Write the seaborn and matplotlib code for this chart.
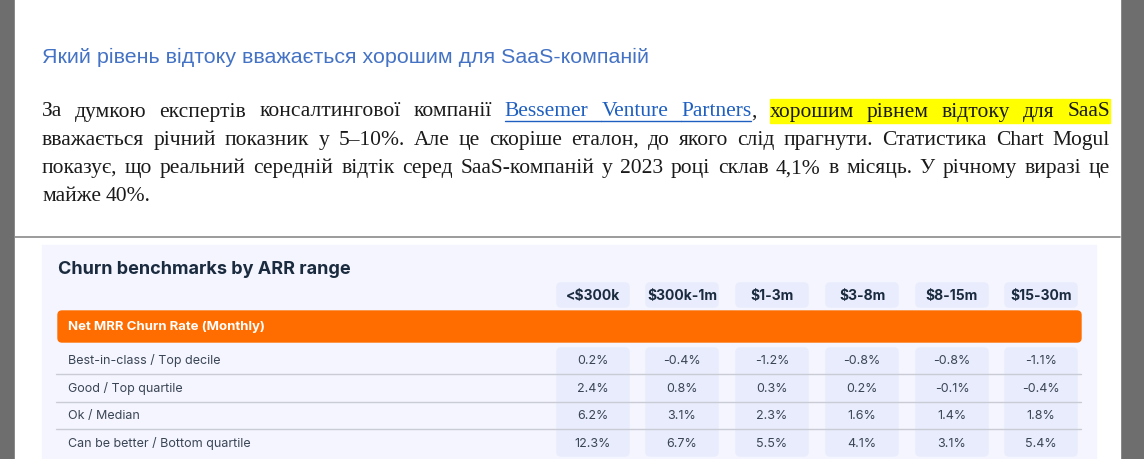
import matplotlib
matplotlib.use("Agg")
import matplotlib.pyplot as plt
import seaborn as sns
from matplotlib.patches import FancyBboxPatch, Rectangle

# data
heading = "Який рівень відтоку вважається хорошим для SaaS-компаній"
para_lines = [
    [("За думкою експертів консалтингової компанії", "k", None),
     ("Bessemer Venture Partners", "#1F5FC0", "link"),
     (",", "k", None),
     ("хорошим рівнем відтоку для SaaS", "k", "#FFFF00")],
    [("вважається річний показник у 5–10%. Але це скоріше еталон, до якого слід прагнути. Статистика Chart Mogul", "k", None)],
    [("показує, що реальний середній відтік серед SaaS-компаній у 2023 році склав 4,1% в місяць. У річному виразі це", "k", None)],
    [("майже 40%.", "k", None)],
]
table_title = "Churn benchmarks by ARR range"
arr_ranges = ["<$300k", "$300k-1m", "$1-3m", "$3-8m", "$8-15m", "$15-30m"]
section = "Net MRR Churn Rate (Monthly)"
tiers = ["Best-in-class / Top decile", "Good / Top quartile", "Ok / Median",
         "Can be better / Bottom quartile"]
churn = [
    [0.2, -0.4, -1.2, -0.8, -0.8, -1.1],
    [2.4, 0.8, 0.3, 0.2, -0.1, -0.4],
    [6.2, 3.1, 2.3, 1.6, 1.4, 1.8],
    [12.3, 6.7, 5.5, 4.1, 3.1, 5.4],
]

sns.set_theme(style="white")
W, H = 1144, 460
fig = plt.figure(figsize=(W / 100, H / 100), dpi=100)
fig.patch.set_facecolor("#6E6E6E")
ax = fig.add_axes([0, 0, 1, 1])
ax.set_xlim(0, W)
ax.set_ylim(H, 0)
ax.axis("off")
renderer = fig.canvas.get_renderer()

# page
ax.add_patch(Rectangle((15, 0), 1105, H, color="white", zorder=0))
ax.plot([15, 1120], [238, 238], color="#8A8A8A", lw=1.2)


def width_of(t):
    bb = t.get_window_extent(renderer=renderer)
    return bb.width


# heading, fit to width
h = ax.text(42, 57, heading, color="#4472C4", fontsize=14, va="center",
            family="Liberation Sans")
h.set_fontsize(14 * 610 / width_of(h))

# justified paragraph
serif = "Liberation Serif"
x0, x1 = 42, 1110
for i, segs in enumerate(para_lines):
    y = 112 + i * 28.3
    words = []
    for txt, col, kind in segs:
        for w in txt.split(" "):
            words.append((w, col, kind))
    arts = [ax.text(0, y, w, color=c, fontsize=15.5, family=serif, va="center")
            for w, c, k in words]
    widths = [width_of(a) for a in arts]
    last = i == len(para_lines) - 1
    # comma attaches to previous word
    gaps = []
    for j in range(1, len(words)):
        gaps.append(0 if words[j][0] == "," else 1)
    if last:
        gap = 4.5
    else:
        gap = (x1 - x0 - sum(widths)) / max(sum(gaps), 1)
    x = x0
    prev_end = None
    for j, (a, wd, (w, c, k)) in enumerate(zip(arts, widths, words)):
        if j > 0:
            x += gap * gaps[j - 1]
        a.set_x(x)
        if k == "link":
            ax.plot([x, x + wd + (gap if words[j + 1][2] == "link" else 0)],
                    [y + 10, y + 10], color=c, lw=1)
        if k and k.startswith("#"):
            ext = gap if j + 1 < len(words) and words[j + 1][2] == k else 0
            ax.add_patch(Rectangle((x, y - 12), wd + ext, 24, color=k, zorder=0.5))
        x += wd

# table panel
ax.add_patch(Rectangle((42, 246), 1054, 220, color="#F4F5FE", zorder=0.6))
ax.text(58, 270, table_title, fontsize=13, fontweight="bold", color="#1B2B3F",
        family="Inter", va="center")

col_x = [593, 682, 772, 862, 952, 1041]
for cx, lab in zip(col_x, arr_ranges):
    ax.add_patch(FancyBboxPatch((cx - 36, 284), 72, 24, boxstyle="round,pad=0,rounding_size=4",
                                color="#E8ECFC", zorder=1))
    ax.add_patch(FancyBboxPatch((cx - 36, 349), 72, 108, boxstyle="round,pad=0,rounding_size=4",
                                color="#E8ECFC", zorder=1))
    ax.text(cx, 296, lab, ha="center", va="center", fontsize=10, fontweight="bold",
            color="#1B2B3F", family="Inter", zorder=3)

ax.add_patch(FancyBboxPatch((58, 312), 1023, 31, boxstyle="round,pad=0,rounding_size=4",
                            color="#FF6D00", zorder=1))
ax.text(68, 327.5, section, color="white", fontsize=9.5, fontweight="bold",
        family="Inter", va="center", zorder=3)

for r, (tier, vals) in enumerate(zip(tiers, churn)):
    y = 361 + r * 27.6
    ax.text(68, y, tier, fontsize=9, color="#3A4555", family="Inter", va="center", zorder=3)
    for cx, v in zip(col_x, vals):
        ax.text(cx, y, f"{v:.1f}%", fontsize=9, color="#3A4555", family="Inter",
                ha="center", va="center", zorder=3)
    if r < len(tiers) - 1:
        ax.plot([56, 1081], [y + 14, y + 14], color="#C9CCD4", lw=1, zorder=2)

fig.savefig("out.png", dpi=100, facecolor=fig.get_facecolor())
